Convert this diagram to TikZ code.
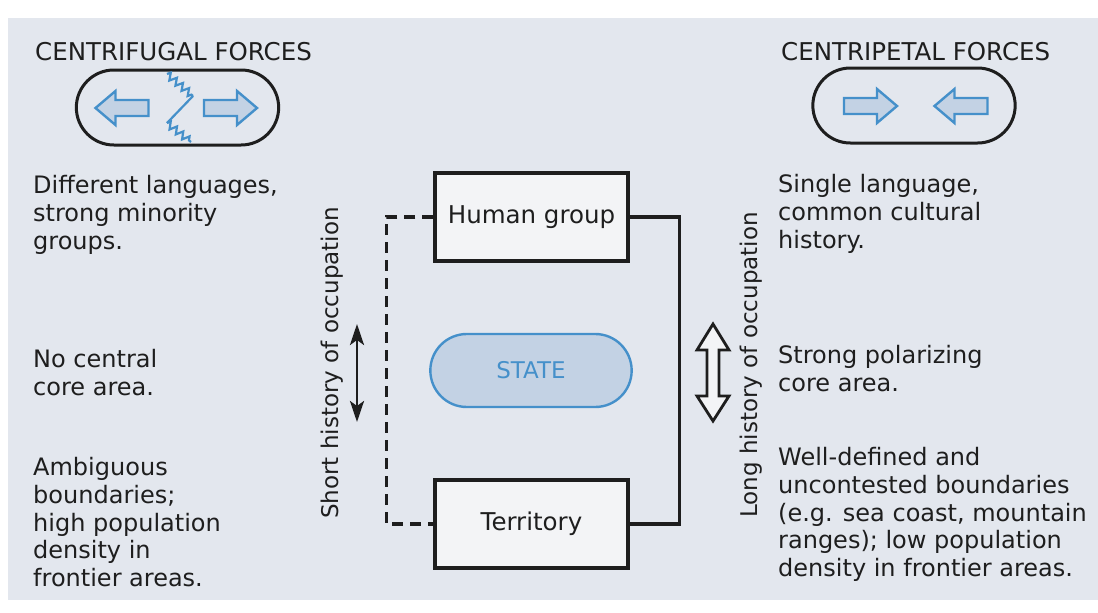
\documentclass[tikz,border=0pt]{standalone}
\usepackage{fontspec}
\setmainfont{DejaVu Sans}
\usetikzlibrary{arrows.meta}
\usetikzlibrary{shapes.misc}
\usetikzlibrary{decorations.pathmorphing}

\definecolor{pagebg}{HTML}{E3E7EE}
\definecolor{boxbg}{HTML}{F3F4F6}
\definecolor{forceblue}{HTML}{4590CA}
\definecolor{forcefill}{HTML}{C3D2E4}
\definecolor{ink}{HTML}{1E1E1E}

\begin{document}
\begin{tikzpicture}[x=1pt,y=-1pt,
  txt/.style={inner sep=0, text=ink, align=left, anchor=north west, font=\fontsize{24}{27.8}\selectfont},
  headline/.style={inner sep=0, text=ink, anchor=base west, font=\fontsize{24.5}{28}\selectfont},
  pill/.style={rounded rectangle, draw=ink, line width=3pt, minimum width=209, minimum height=75},
  block/.style={draw=ink, fill=boxbg, line width=3.2pt, minimum width=193, minimum height=88, inner sep=0, text=ink, font=\fontsize{24.5}{28}\selectfont},
  side/.style={rotate=90, inner sep=0, text=ink, font=\fontsize{23}{26}\selectfont},
  link/.style={draw=ink, line width=3.2pt},
  blockarrow/.style={draw=forceblue, fill=forcefill, line width=2.4pt, line join=miter},
  crack/.style={draw=forceblue, line width=2.2pt, decorate, decoration={zigzag, segment length=8pt, amplitude=3.5pt}},
]
\useasboundingbox (0,0) rectangle (1098,613);
\fill[pagebg] (8,18) rectangle (1098,600);

\node (cftitle) at (35,60) [headline] {CENTRIFUGAL FORCES};
\node (cptitle) at (781,60) [headline] {CENTRIPETAL FORCES};

\node (cfpill) at (177.5,107.5) [pill] {};
\node (cppill) at (914,105.5) [pill] {};

\foreach \cx/\cy/\dir in {122.5/108/-1, 230/108/1, 870/106/1, 961.5/106/-1}
{
\draw [blockarrow, shift={(\cx,\cy)}, xscale=\dir] (-26,-8) -- (7,-8) -- (7,-17) -- (27,0) --
(7,17) -- (7,8) -- (-26,8) -- cycle;
}
\draw [crack] (167,74) -- (193,96);
\draw [draw=forceblue, line width=2.2pt] (193,96) -- (167,123);
\draw [crack] (167,123) -- (191,142);

\node (lang) at (33,175) [txt] {Different languages,\\strong minority\\groups.};
\node (core) at (33,349) [txt] {No central\\core area.};
\node (bound) at (33,457) [txt] {Ambiguous\\boundaries;\\high population\\density in\\frontier areas.};

\node (single) at (778,174) [txt] {Single language,\\common cultural\\history.};
\node (polar) at (778,345) [txt] {Strong polarizing\\core area.};
\node (defined) at (778,447) [txt] {Well-defined and\\uncontested boundaries\\(e.g. sea coast, mountain\\ranges); low population\\density in frontier areas.};

\node (hg) at (531.5,217) [block] {Human group};
\node (terr) at (531.5,524) [block] {Territory};
\node (state) at (531,370.5) [rounded rectangle, draw=forceblue, fill=forcefill, line width=2.4pt,
  minimum width=208, minimum height=73, text=forceblue, font=\fontsize{23}{26}\selectfont] {STATE};

\draw [link, dash pattern=on 11pt off 7pt] (hg.west) -- ++(-47,0) |- (terr.west);
\draw [link] (hg.east) -- ++(50,0) |- (terr.east);

\node (short) at (332,363) [side] {Short history of occupation};
\node (long) at (751,365) [side] {Long history of occupation};

\coordinate (shorttop) at (357,324);
\coordinate (shortbot) at (357,422);
\draw [link, line width=2.8pt, {Stealth[length=21pt,width=14pt,inset=5pt]}-{Stealth[length=21pt,width=14pt,inset=5pt]}] (shorttop) -- (shortbot);

\draw [draw=ink, fill=boxbg, line width=2.8pt, line join=miter] (713,324) -- (729,350) -- (719,350) -- (719,396) --
(729,396) -- (713,421) -- (697,396) -- (707,396) -- (707,350) -- (697,350) -- cycle;
\end{tikzpicture}
\end{document}
